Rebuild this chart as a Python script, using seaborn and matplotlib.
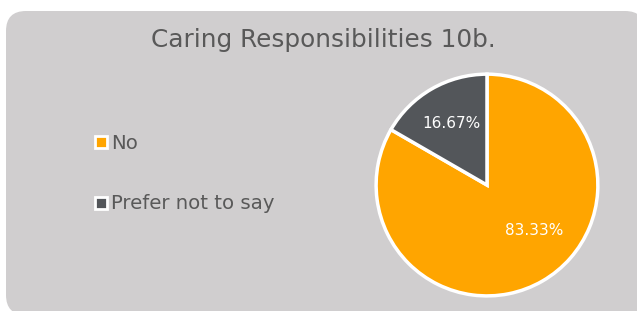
import numpy as np
import matplotlib
matplotlib.use("Agg")
import matplotlib.pyplot as plt
import seaborn as sns
from matplotlib.patches import FancyBboxPatch
from matplotlib.lines import Line2D

# -----------------------------
# Data
# -----------------------------
title = "Caring Responsibilities 10b."
categories = ["No", "Prefer not to say"]
values = [83.33, 16.67]
colors = ["#FFA500", "#53565A"]

sns.set_theme(style="white")
plt.rcParams["font.family"] = ["DejaVu Sans"]

fig = plt.figure(figsize=(6.37, 3.11), dpi=100)
fig.patch.set_facecolor("white")

# rounded grey panel
panel = FancyBboxPatch((0.06 + 0.2, -0.04 + 0.2), 6.39 - 0.4, 3.04 - 0.4,
                       boxstyle="round,pad=0.2", transform=fig.dpi_scale_trans,
                       facecolor="#D0CECF", edgecolor="none", zorder=-5)
fig.patches.append(panel)

fig.text(0.507, 0.871, title, ha="center", va="center", fontsize=17.8,
         color="#595959")

# -----------------------------
# Pie
# -----------------------------
ax = fig.add_axes([0.7645 - 0.1758, 0.405 - 0.3601, 0.3516, 0.7203], zorder=2)
ax.patch.set_alpha(0)
wedges, texts, autotexts = ax.pie(values, colors=colors, startangle=90, counterclock=False,
                                  autopct="%.2f%%", pctdistance=0.64,
                                  wedgeprops=dict(edgecolor="white", linewidth=2.5),
                                  textprops=dict(color="white", fontsize=11))
# nudge the big label to where it sits in the original
ang = np.deg2rad(-44)
autotexts[0].set_position((0.59 * np.cos(ang), 0.59 * np.sin(ang)))
ax.set_xlim(-1.01, 1.01)
ax.set_ylim(-1.01, 1.01)
ax.set_aspect("equal")
ax.axis("off")

# -----------------------------
# Legend
# -----------------------------
handles = [Line2D([], [], marker="s", linestyle="none", markersize=8,
                  markerfacecolor=c, markeredgecolor="white", markeredgewidth=2)
           for c in colors]
fig.legend(handles, categories, loc="upper left", bbox_to_anchor=(0.13, 0.602),
           frameon=False, fontsize=14.2, labelcolor="#595959",
           handlelength=0.8, handletextpad=0.15, labelspacing=2.12, borderpad=0)

plt.savefig("out.png", dpi=100)
